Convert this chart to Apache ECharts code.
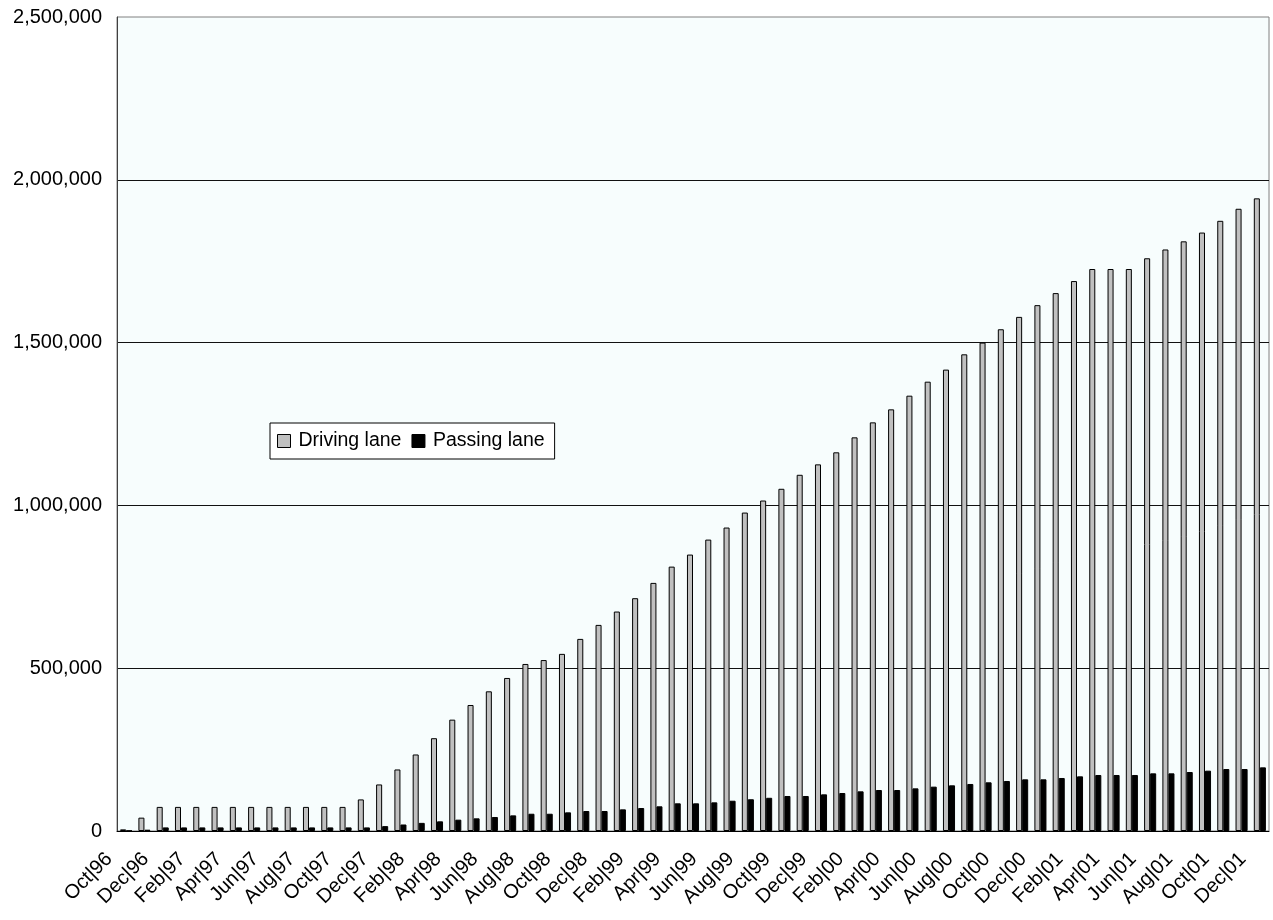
<!DOCTYPE html>
<html>
<head>
<meta charset="utf-8">
<script src="https://cdn.jsdelivr.net/npm/echarts@6/dist/echarts.min.js"></script>
<style>
  html, body { margin: 0; padding: 0; background: #ffffff; }
  #chart { width: 1273px; height: 920px; }
</style>
</head>
<body>
<div id="chart"></div>
<script>
// Monthly cumulative counts, October 1996 to December 2001
const months = [
  'Oct|96','Nov|96','Dec|96',
  'Jan|97','Feb|97','Mar|97','Apr|97','May|97','Jun|97','Jul|97','Aug|97','Sep|97','Oct|97','Nov|97','Dec|97',
  'Jan|98','Feb|98','Mar|98','Apr|98','May|98','Jun|98','Jul|98','Aug|98','Sep|98','Oct|98','Nov|98','Dec|98',
  'Jan|99','Feb|99','Mar|99','Apr|99','May|99','Jun|99','Jul|99','Aug|99','Sep|99','Oct|99','Nov|99','Dec|99',
  'Jan|00','Feb|00','Mar|00','Apr|00','May|00','Jun|00','Jul|00','Aug|00','Sep|00','Oct|00','Nov|00','Dec|00',
  'Jan|01','Feb|01','Mar|01','Apr|01','May|01','Jun|01','Jul|01','Aug|01','Sep|01','Oct|01','Nov|01','Dec|01'
];

const drivingLane = [
  5000, 41000, 74000,
  74000, 74000, 74000, 74000, 74000, 74000, 74000, 74000, 74000, 74000, 97000, 143000,
  189000, 235000, 285000, 342000, 387000, 429000, 470000, 513000, 525000, 544000, 590000, 633000,
  674000, 715000, 762000, 812000, 849000, 895000, 932000, 978000, 1015000, 1051000, 1094000, 1126000,
  1163000, 1209000, 1255000, 1295000, 1337000, 1380000, 1417000, 1464000, 1500000, 1541000, 1579000, 1615000,
  1652000, 1689000, 1726000, 1726000, 1726000, 1759000, 1786000, 1811000, 1838000, 1874000, 1911000, 1943000
];

const passingLane = [
  1000, 4000, 11000,
  11000, 11000, 11000, 11000, 11000, 11000, 11000, 11000, 11000, 11000, 11000, 15000,
  20000, 25000, 29700, 34800, 38900, 43000, 48000, 53000, 53000, 57300, 61400, 61400,
  66500, 70600, 75800, 85000, 85000, 88000, 93000, 97500, 102000, 107500, 107500, 112600,
  116700, 121800, 125900, 125900, 131000, 136200, 140300, 144400, 149500, 153600, 158700, 158700,
  162800, 167900, 172000, 172000, 172000, 177100, 177100, 181200, 185300, 190400, 190400, 195500
];

const yTicks = { min: 0, max: 2500000, step: 500000 };

const FONT = "'Liberation Sans', Arial, Helvetica, sans-serif";

const chart = echarts.init(document.getElementById('chart'), null, { renderer: 'canvas' });

chart.setOption({
  animation: false,
  backgroundColor: '#ffffff',
  textStyle: { fontFamily: FONT, color: '#000' },
  grid: {
    left: 117, right: 4, top: 17, bottom: 89,
    show: true,
    backgroundColor: '#f7fdfd',
    borderColor: '#808080',
    borderWidth: 1
  },
  legend: {
    left: 270, top: 423,
    orient: 'horizontal',
    backgroundColor: '#ffffff',
    borderColor: '#000000',
    borderWidth: 1,
    borderRadius: 0,
    padding: [8, 10, 8, 7],
    itemWidth: 13,
    itemHeight: 13,
    itemGap: 10,
    textStyle: { fontFamily: FONT, fontSize: 19.5, color: '#000', padding: [0, 0, 0, 3] },
    data: [
      { name: 'Driving lane', icon: 'rect', itemStyle: { color: '#c0c0c0', borderColor: '#000', borderWidth: 1 } },
      { name: 'Passing lane', icon: 'rect', itemStyle: { color: '#000000', borderColor: '#000', borderWidth: 1 } }
    ]
  },
  xAxis: {
    type: 'category',
    data: months,
    boundaryGap: true,
    axisLine: { show: true, lineStyle: { color: '#000', width: 1 } },
    axisTick: { show: false },
    axisLabel: {
      interval: 1,
      rotate: 45,
      margin: 8,
      padding: [0, 24, 0, 0],
      fontFamily: FONT,
      fontSize: 20,
      color: '#000'
    },
    splitLine: { show: false }
  },
  yAxis: {
    type: 'value',
    min: yTicks.min,
    max: yTicks.max,
    interval: yTicks.step,
    axisLine: { show: true, lineStyle: { color: '#404040', width: 1 } },
    axisTick: { show: false },
    axisLabel: {
      margin: 15,
      fontFamily: FONT,
      fontSize: 20,
      color: '#000',
      formatter: v => v.toLocaleString('en-US')
    },
    splitLine: { show: true, showMaxLine: false, lineStyle: { color: '#111', width: 1 } }
  },
  series: [
    {
      name: 'Driving lane',
      type: 'bar',
      data: drivingLane,
      barGap: '0%',
      barCategoryGap: '34%',
      itemStyle: { color: '#c0c0c0', borderColor: '#000', borderWidth: 1 }
    },
    {
      name: 'Passing lane',
      type: 'bar',
      data: passingLane,
      barGap: '0%',
      barCategoryGap: '34%',
      itemStyle: { color: '#000000', borderColor: '#000', borderWidth: 1 }
    }
  ]
});
</script>
</body>
</html>
